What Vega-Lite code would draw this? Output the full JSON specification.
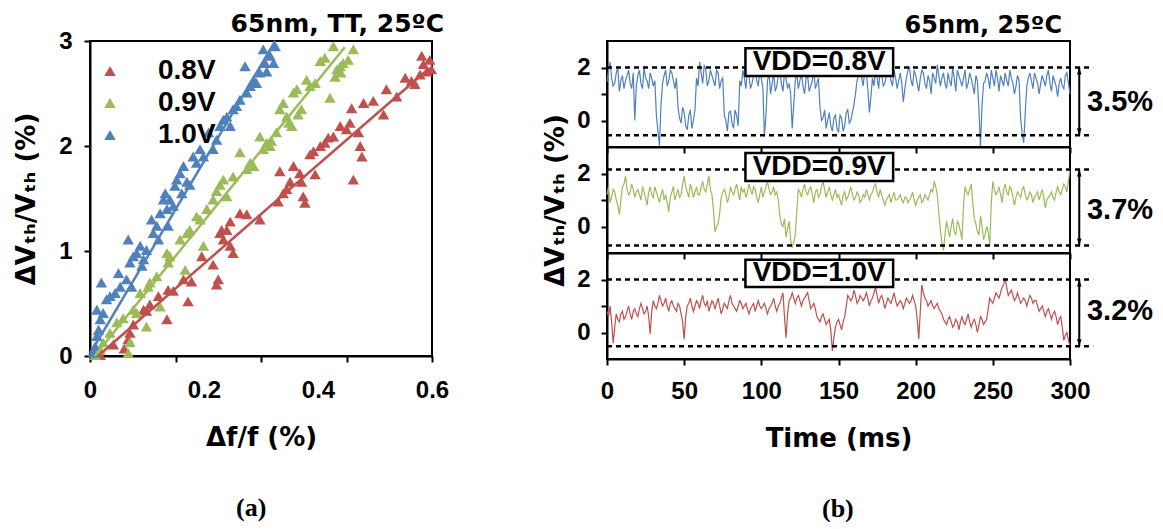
{
 "$schema": "https://vega.github.io/schema/vega-lite/v6.json",
 "background": "white",
 "padding": {"left": 12, "top": 11, "right": 0, "bottom": 0},
 "spacing": 91,
 "datasets": {
  "scatter": [
   {"x":0.018,"y":0.01,"v":"0.8V"},{"x":0.041,"y":0.11,"v":"0.8V"},{"x":0.060,"y":0.07,"v":"0.8V"},{"x":0.067,"y":0.16,"v":"0.8V"},{"x":0.070,"y":0.22,"v":"0.8V"},{"x":0.076,"y":0.30,"v":"0.8V"},{"x":0.094,"y":0.44,"v":"0.8V"},{"x":0.099,"y":0.43,"v":"0.8V"},{"x":0.105,"y":0.49,"v":"0.8V"},{"x":0.120,"y":0.57,"v":"0.8V"},{"x":0.135,"y":0.35,"v":"0.8V"},{"x":0.137,"y":0.63,"v":"0.8V"},{"x":0.146,"y":0.62,"v":"0.8V"},{"x":0.164,"y":0.73,"v":"0.8V"},{"x":0.172,"y":0.52,"v":"0.8V"},{"x":0.178,"y":0.71,"v":"0.8V"},{"x":0.196,"y":0.95,"v":"0.8V"},{"x":0.216,"y":0.87,"v":"0.8V"},{"x":0.222,"y":0.68,"v":"0.8V"},{"x":0.225,"y":0.73,"v":"0.8V"},{"x":0.228,"y":1.17,"v":"0.8V"},{"x":0.231,"y":1.20,"v":"0.8V"},{"x":0.234,"y":1.11,"v":"0.8V"},{"x":0.240,"y":1.20,"v":"0.8V"},{"x":0.246,"y":1.28,"v":"0.8V"},{"x":0.246,"y":1.05,"v":"0.8V"},{"x":0.251,"y":0.98,"v":"0.8V"},{"x":0.263,"y":1.36,"v":"0.8V"},{"x":0.275,"y":1.35,"v":"0.8V"},{"x":0.298,"y":1.30,"v":"0.8V"},{"x":0.330,"y":1.47,"v":"0.8V"},{"x":0.333,"y":1.76,"v":"0.8V"},{"x":0.339,"y":1.55,"v":"0.8V"},{"x":0.345,"y":1.59,"v":"0.8V"},{"x":0.351,"y":1.66,"v":"0.8V"},{"x":0.357,"y":1.81,"v":"0.8V"},{"x":0.368,"y":1.74,"v":"0.8V"},{"x":0.371,"y":1.66,"v":"0.8V"},{"x":0.374,"y":1.52,"v":"0.8V"},{"x":0.377,"y":1.46,"v":"0.8V"},{"x":0.386,"y":1.92,"v":"0.8V"},{"x":0.392,"y":1.95,"v":"0.8V"},{"x":0.395,"y":1.73,"v":"0.8V"},{"x":0.404,"y":2.00,"v":"0.8V"},{"x":0.412,"y":2.03,"v":"0.8V"},{"x":0.418,"y":2.08,"v":"0.8V"},{"x":0.427,"y":2.09,"v":"0.8V"},{"x":0.439,"y":2.19,"v":"0.8V"},{"x":0.450,"y":2.16,"v":"0.8V"},{"x":0.456,"y":2.22,"v":"0.8V"},{"x":0.459,"y":2.36,"v":"0.8V"},{"x":0.462,"y":1.68,"v":"0.8V"},{"x":0.471,"y":2.13,"v":"0.8V"},{"x":0.474,"y":2.00,"v":"0.8V"},{"x":0.477,"y":1.90,"v":"0.8V"},{"x":0.480,"y":2.41,"v":"0.8V"},{"x":0.497,"y":2.43,"v":"0.8V"},{"x":0.515,"y":2.30,"v":"0.8V"},{"x":0.520,"y":2.54,"v":"0.8V"},{"x":0.538,"y":2.47,"v":"0.8V"},{"x":0.553,"y":2.65,"v":"0.8V"},{"x":0.564,"y":2.62,"v":"0.8V"},{"x":0.570,"y":2.59,"v":"0.8V"},{"x":0.579,"y":2.68,"v":"0.8V"},{"x":0.582,"y":2.86,"v":"0.8V"},{"x":0.585,"y":2.78,"v":"0.8V"},{"x":0.591,"y":2.71,"v":"0.8V"},{"x":0.596,"y":2.82,"v":"0.8V"},{"x":0.599,"y":2.73,"v":"0.8V"},
   {"x":0.009,"y":0.01,"v":"0.9V"},{"x":0.018,"y":0.06,"v":"0.9V"},{"x":0.023,"y":0.13,"v":"0.9V"},{"x":0.035,"y":0.22,"v":"0.9V"},{"x":0.047,"y":0.32,"v":"0.9V"},{"x":0.058,"y":0.36,"v":"0.9V"},{"x":0.067,"y":0.03,"v":"0.9V"},{"x":0.070,"y":0.13,"v":"0.9V"},{"x":0.076,"y":0.44,"v":"0.9V"},{"x":0.082,"y":0.41,"v":"0.9V"},{"x":0.088,"y":0.60,"v":"0.9V"},{"x":0.099,"y":0.28,"v":"0.9V"},{"x":0.102,"y":0.66,"v":"0.9V"},{"x":0.105,"y":0.70,"v":"0.9V"},{"x":0.117,"y":0.76,"v":"0.9V"},{"x":0.123,"y":0.47,"v":"0.9V"},{"x":0.135,"y":0.98,"v":"0.9V"},{"x":0.137,"y":0.89,"v":"0.9V"},{"x":0.140,"y":0.95,"v":"0.9V"},{"x":0.158,"y":1.11,"v":"0.9V"},{"x":0.167,"y":0.82,"v":"0.9V"},{"x":0.170,"y":1.17,"v":"0.9V"},{"x":0.175,"y":1.20,"v":"0.9V"},{"x":0.187,"y":1.33,"v":"0.9V"},{"x":0.193,"y":1.30,"v":"0.9V"},{"x":0.199,"y":1.05,"v":"0.9V"},{"x":0.205,"y":1.40,"v":"0.9V"},{"x":0.216,"y":1.49,"v":"0.9V"},{"x":0.222,"y":1.57,"v":"0.9V"},{"x":0.228,"y":1.63,"v":"0.9V"},{"x":0.234,"y":1.68,"v":"0.9V"},{"x":0.240,"y":1.52,"v":"0.9V"},{"x":0.251,"y":1.71,"v":"0.9V"},{"x":0.263,"y":1.94,"v":"0.9V"},{"x":0.275,"y":1.78,"v":"0.9V"},{"x":0.281,"y":1.84,"v":"0.9V"},{"x":0.287,"y":1.81,"v":"0.9V"},{"x":0.298,"y":2.09,"v":"0.9V"},{"x":0.304,"y":1.97,"v":"0.9V"},{"x":0.310,"y":2.03,"v":"0.9V"},{"x":0.316,"y":2.00,"v":"0.9V"},{"x":0.318,"y":2.05,"v":"0.9V"},{"x":0.327,"y":2.13,"v":"0.9V"},{"x":0.333,"y":2.35,"v":"0.9V"},{"x":0.339,"y":2.41,"v":"0.9V"},{"x":0.345,"y":2.28,"v":"0.9V"},{"x":0.349,"y":2.22,"v":"0.9V"},{"x":0.354,"y":2.19,"v":"0.9V"},{"x":0.357,"y":2.51,"v":"0.9V"},{"x":0.363,"y":2.54,"v":"0.9V"},{"x":0.365,"y":2.30,"v":"0.9V"},{"x":0.371,"y":2.35,"v":"0.9V"},{"x":0.380,"y":2.63,"v":"0.9V"},{"x":0.386,"y":2.57,"v":"0.9V"},{"x":0.395,"y":2.60,"v":"0.9V"},{"x":0.404,"y":2.81,"v":"0.9V"},{"x":0.412,"y":2.84,"v":"0.9V"},{"x":0.421,"y":2.46,"v":"0.9V"},{"x":0.427,"y":2.95,"v":"0.9V"},{"x":0.430,"y":2.66,"v":"0.9V"},{"x":0.433,"y":2.73,"v":"0.9V"},{"x":0.439,"y":2.76,"v":"0.9V"},{"x":0.440,"y":2.70,"v":"0.9V"},{"x":0.444,"y":2.79,"v":"0.9V"},{"x":0.453,"y":2.82,"v":"0.9V"},{"x":0.462,"y":2.92,"v":"0.9V"},
   {"x":0.006,"y":0.03,"v":"1.0V"},{"x":0.009,"y":0.09,"v":"1.0V"},{"x":0.012,"y":0.19,"v":"1.0V"},{"x":0.015,"y":0.25,"v":"1.0V"},{"x":0.012,"y":0.44,"v":"1.0V"},{"x":0.018,"y":0.35,"v":"1.0V"},{"x":0.023,"y":0.41,"v":"1.0V"},{"x":0.020,"y":0.70,"v":"1.0V"},{"x":0.029,"y":0.54,"v":"1.0V"},{"x":0.035,"y":0.57,"v":"1.0V"},{"x":0.044,"y":0.60,"v":"1.0V"},{"x":0.050,"y":0.79,"v":"1.0V"},{"x":0.053,"y":0.66,"v":"1.0V"},{"x":0.064,"y":0.73,"v":"1.0V"},{"x":0.067,"y":1.11,"v":"1.0V"},{"x":0.070,"y":0.89,"v":"1.0V"},{"x":0.073,"y":0.66,"v":"1.0V"},{"x":0.076,"y":0.95,"v":"1.0V"},{"x":0.082,"y":0.98,"v":"1.0V"},{"x":0.088,"y":1.05,"v":"1.0V"},{"x":0.091,"y":0.86,"v":"1.0V"},{"x":0.094,"y":0.92,"v":"1.0V"},{"x":0.099,"y":1.01,"v":"1.0V"},{"x":0.108,"y":1.30,"v":"1.0V"},{"x":0.111,"y":1.17,"v":"1.0V"},{"x":0.117,"y":1.24,"v":"1.0V"},{"x":0.120,"y":1.11,"v":"1.0V"},{"x":0.123,"y":1.36,"v":"1.0V"},{"x":0.129,"y":1.49,"v":"1.0V"},{"x":0.132,"y":1.55,"v":"1.0V"},{"x":0.135,"y":1.40,"v":"1.0V"},{"x":0.137,"y":1.24,"v":"1.0V"},{"x":0.140,"y":1.49,"v":"1.0V"},{"x":0.146,"y":1.43,"v":"1.0V"},{"x":0.149,"y":1.62,"v":"1.0V"},{"x":0.152,"y":1.68,"v":"1.0V"},{"x":0.158,"y":1.74,"v":"1.0V"},{"x":0.161,"y":1.55,"v":"1.0V"},{"x":0.164,"y":1.81,"v":"1.0V"},{"x":0.170,"y":1.66,"v":"1.0V"},{"x":0.175,"y":1.63,"v":"1.0V"},{"x":0.181,"y":1.90,"v":"1.0V"},{"x":0.187,"y":1.84,"v":"1.0V"},{"x":0.193,"y":1.97,"v":"1.0V"},{"x":0.199,"y":1.90,"v":"1.0V"},{"x":0.208,"y":2.13,"v":"1.0V"},{"x":0.216,"y":1.97,"v":"1.0V"},{"x":0.222,"y":2.06,"v":"1.0V"},{"x":0.228,"y":2.19,"v":"1.0V"},{"x":0.234,"y":2.25,"v":"1.0V"},{"x":0.240,"y":2.28,"v":"1.0V"},{"x":0.246,"y":2.19,"v":"1.0V"},{"x":0.251,"y":2.35,"v":"1.0V"},{"x":0.257,"y":2.38,"v":"1.0V"},{"x":0.263,"y":2.44,"v":"1.0V"},{"x":0.272,"y":2.76,"v":"1.0V"},{"x":0.275,"y":2.51,"v":"1.0V"},{"x":0.281,"y":2.57,"v":"1.0V"},{"x":0.287,"y":2.63,"v":"1.0V"},{"x":0.292,"y":2.60,"v":"1.0V"},{"x":0.298,"y":2.70,"v":"1.0V"},{"x":0.304,"y":2.92,"v":"1.0V"},{"x":0.307,"y":2.79,"v":"1.0V"},{"x":0.310,"y":2.71,"v":"1.0V"},{"x":0.316,"y":2.86,"v":"1.0V"},{"x":0.322,"y":2.79,"v":"1.0V"},{"x":0.325,"y":2.95,"v":"1.0V"}
  ],
  "fit": [
   {"x":0.014,"y":0.0,"v":"0.8V"},{"x":0.289,"y":1.30,"v":"0.8V"},{"x":0.595,"y":2.74,"v":"0.8V"},
   {"x":0.008,"y":0.0,"v":"0.9V"},{"x":0.447,"y":2.94,"v":"0.9V"},
   {"x":0.0,"y":0.02,"v":"1.0V"},{"x":0.325,"y":3.0,"v":"1.0V"}
  ],
  "ts": [
   {"t":0,"a":1.45,"b":1.2,"c":0.8},{"t":2,"a":2.2,"b":0.9,"c":1.0},{"t":4,"a":1.3,"b":1.4,"c":-0.4},{"t":6,"a":1.8,"b":1.0,"c":0.7},{"t":8,"a":1.1,"b":0.45,"c":0.4},{"t":10,"a":1.7,"b":1.5,"c":0.8},{"t":12,"a":1.5,"b":1.9,"c":0.6},{"t":14,"a":1.9,"b":1.2,"c":1.0},{"t":16,"a":1.2,"b":1.6,"c":0.5},{"t":18,"a":0.0,"b":1.1,"c":0.9},
   {"t":20,"a":1.7,"b":1.4,"c":0.6},{"t":22,"a":1.4,"b":1.0,"c":1.1},{"t":24,"a":2.0,"b":1.3,"c":0.7},{"t":26,"a":1.5,"b":0.8,"c":1.0},{"t":28,"a":1.8,"b":1.5,"c":-0.05},{"t":30,"a":1.3,"b":1.1,"c":1.2},{"t":32,"a":0.2,"b":1.3,"c":0.9},{"t":34,"a":-0.95,"b":0.9,"c":1.4},{"t":36,"a":1.4,"b":1.4,"c":1.0},{"t":38,"a":1.9,"b":1.2,"c":1.3},
   {"t":40,"a":1.5,"b":0.55,"c":0.8},{"t":42,"a":1.8,"b":1.3,"c":1.2},{"t":44,"a":1.2,"b":1.0,"c":0.9},{"t":46,"a":0.5,"b":1.4,"c":1.1},{"t":48,"a":-0.1,"b":1.2,"c":0.7},{"t":50,"a":0.3,"b":1.9,"c":-0.25},{"t":52,"a":-0.35,"b":1.3,"c":1.0},{"t":54,"a":0.4,"b":1.6,"c":1.3},{"t":56,"a":0.0,"b":1.1,"c":0.8},{"t":58,"a":1.6,"b":1.5,"c":1.2},
   {"t":60,"a":2.2,"b":1.2,"c":0.9},{"t":62,"a":1.4,"b":1.7,"c":1.4},{"t":64,"a":1.9,"b":1.3,"c":1.0},{"t":66,"a":1.5,"b":1.9,"c":0.8},{"t":68,"a":1.7,"b":1.2,"c":1.2},{"t":70,"a":1.3,"b":-0.2,"c":0.9},{"t":72,"a":1.8,"b":0.1,"c":1.3},{"t":74,"a":1.5,"b":1.1,"c":0.7},{"t":76,"a":0.2,"b":1.4,"c":1.1},{"t":78,"a":-0.4,"b":0.9,"c":0.9},
   {"t":80,"a":0.35,"b":1.5,"c":1.4},{"t":82,"a":-0.3,"b":1.2,"c":1.0},{"t":84,"a":0.2,"b":1.6,"c":0.8},{"t":86,"a":1.5,"b":1.0,"c":1.2},{"t":88,"a":1.9,"b":1.3,"c":0.9},{"t":90,"a":1.2,"b":1.1,"c":1.1},{"t":92,"a":1.7,"b":1.6,"c":0.7},{"t":94,"a":1.4,"b":1.2,"c":1.0},{"t":96,"a":2.0,"b":1.4,"c":0.8},{"t":98,"a":1.3,"b":0.9,"c":1.2},
   {"t":100,"a":1.6,"b":1.5,"c":0.9},{"t":102,"a":-0.6,"b":1.3,"c":1.1},{"t":104,"a":1.5,"b":1.7,"c":0.7},{"t":106,"a":1.0,"b":1.2,"c":1.0},{"t":108,"a":1.8,"b":1.5,"c":1.3},{"t":110,"a":1.3,"b":1.3,"c":0.8},{"t":112,"a":1.9,"b":0.4,"c":1.1},{"t":114,"a":1.1,"b":0.0,"c":1.5},{"t":116,"a":1.6,"b":-0.4,"c":-0.2},{"t":118,"a":1.4,"b":0.2,"c":1.2},
   {"t":120,"a":-0.3,"b":-0.8,"c":1.5},{"t":122,"a":1.5,"b":-0.3,"c":1.1},{"t":124,"a":1.2,"b":1.4,"c":1.4},{"t":126,"a":1.8,"b":1.1,"c":1.0},{"t":128,"a":1.0,"b":1.6,"c":1.3},{"t":130,"a":1.7,"b":1.2,"c":1.5},{"t":132,"a":1.3,"b":1.5,"c":0.9},{"t":134,"a":1.9,"b":0.9,"c":1.1},{"t":136,"a":1.4,"b":1.4,"c":0.6},{"t":138,"a":0.5,"b":1.2,"c":0.4},
   {"t":140,"a":0.1,"b":1.7,"c":0.7},{"t":142,"a":-0.3,"b":1.1,"c":0.3},{"t":144,"a":0.3,"b":1.5,"c":0.5},{"t":146,"a":-0.4,"b":1.0,"c":-0.7},{"t":148,"a":0.2,"b":1.4,"c":0.2},{"t":150,"a":-0.45,"b":1.2,"c":0.5},{"t":152,"a":0.1,"b":0.8,"c":0.1},{"t":154,"a":-0.2,"b":1.3,"c":0.6},{"t":156,"a":0.4,"b":1.1,"c":1.4},{"t":158,"a":0.0,"b":1.5,"c":1.2},
   {"t":160,"a":0.6,"b":1.0,"c":1.6},{"t":162,"a":1.5,"b":1.3,"c":1.1},{"t":164,"a":2.0,"b":0.9,"c":1.4},{"t":166,"a":1.3,"b":1.2,"c":1.2},{"t":168,"a":1.8,"b":1.4,"c":1.5},{"t":170,"a":0.3,"b":1.0,"c":1.0},{"t":172,"a":1.6,"b":1.3,"c":1.3},{"t":174,"a":2.1,"b":1.6,"c":1.7},{"t":176,"a":1.2,"b":1.1,"c":1.1},{"t":178,"a":1.7,"b":1.2,"c":1.4},
   {"t":180,"a":1.4,"b":0.8,"c":0.9},{"t":182,"a":2.2,"b":1.1,"c":1.3},{"t":184,"a":1.5,"b":0.9,"c":1.1},{"t":186,"a":1.9,"b":1.3,"c":1.5},{"t":188,"a":1.2,"b":1.0,"c":1.0},{"t":190,"a":1.8,"b":1.2,"c":1.2},{"t":192,"a":0.7,"b":0.9,"c":0.9},{"t":194,"a":1.6,"b":1.1,"c":1.3},{"t":196,"a":2.0,"b":1.0,"c":1.1},{"t":198,"a":1.3,"b":1.3,"c":1.4},
   {"t":200,"a":1.7,"b":0.8,"c":1.0},{"t":202,"a":1.1,"b":1.1,"c":-0.25},{"t":204,"a":1.9,"b":0.9,"c":1.8},{"t":206,"a":1.4,"b":1.2,"c":1.3},{"t":208,"a":1.7,"b":1.0,"c":1.0},{"t":210,"a":1.0,"b":1.4,"c":1.2},{"t":212,"a":1.6,"b":1.7,"c":0.9},{"t":214,"a":2.1,"b":1.2,"c":1.1},{"t":216,"a":1.3,"b":-0.1,"c":0.8},{"t":218,"a":1.8,"b":-0.9,"c":0.5},
   {"t":220,"a":1.2,"b":0.2,"c":0.3},{"t":222,"a":1.5,"b":-0.4,"c":0.6},{"t":224,"a":2.0,"b":0.3,"c":0.2},{"t":226,"a":1.1,"b":-0.3,"c":0.5},{"t":228,"a":1.7,"b":0.1,"c":0.1},{"t":230,"a":1.3,"b":-0.5,"c":0.6},{"t":232,"a":1.9,"b":1.5,"c":0.3},{"t":234,"a":1.4,"b":1.2,"c":0.7},{"t":236,"a":1.6,"b":1.6,"c":0.2},{"t":238,"a":1.0,"b":0.3,"c":0.5},
   {"t":240,"a":1.5,"b":-0.2,"c":0.0},{"t":242,"a":-1.0,"b":0.4,"c":0.6},{"t":244,"a":1.4,"b":-0.5,"c":0.3},{"t":246,"a":1.8,"b":0.0,"c":0.5},{"t":248,"a":1.2,"b":-0.7,"c":1.3},{"t":250,"a":1.6,"b":1.7,"c":1.1},{"t":252,"a":1.9,"b":1.2,"c":1.5},{"t":254,"a":1.1,"b":1.5,"c":1.3},{"t":256,"a":1.5,"b":0.9,"c":1.7},{"t":258,"a":1.8,"b":1.6,"c":2.05},
   {"t":260,"a":1.3,"b":1.2,"c":1.4},{"t":262,"a":1.6,"b":1.4,"c":1.6},{"t":264,"a":1.0,"b":0.8,"c":1.2},{"t":266,"a":1.7,"b":1.3,"c":1.5},{"t":268,"a":0.1,"b":1.1,"c":1.1},{"t":270,"a":-0.85,"b":1.5,"c":1.3},{"t":272,"a":1.3,"b":1.0,"c":1.0},{"t":274,"a":1.8,"b":1.3,"c":1.4},{"t":276,"a":1.2,"b":0.9,"c":1.1},{"t":278,"a":1.6,"b":1.2,"c":1.2},
   {"t":280,"a":1.0,"b":1.0,"c":0.8},{"t":282,"a":1.7,"b":1.4,"c":1.0},{"t":284,"a":1.3,"b":0.7,"c":0.6},{"t":286,"a":1.9,"b":1.1,"c":0.9},{"t":288,"a":1.1,"b":1.3,"c":0.5},{"t":290,"a":1.5,"b":1.0,"c":0.8},{"t":292,"a":0.9,"b":1.5,"c":0.3},{"t":294,"a":1.6,"b":1.2,"c":0.6},{"t":296,"a":1.2,"b":1.6,"c":-0.3},{"t":298,"a":1.8,"b":1.3,"c":0.0},
   {"t":300,"a":1.0,"b":2.2,"c":-0.5},
   {"t":1,"a":1.9,"b":1.5,"c":0.6},{"t":3,"a":1.6,"b":1.1,"c":0.4},{"t":5,"a":1.4,"b":1.3,"c":0.2},{"t":7,"a":2.0,"b":0.8,"c":0.5},{"t":9,"a":1.5,"b":1.0,"c":0.7},{"t":11,"a":1.2,"b":1.6,"c":0.5},{"t":13,"a":1.7,"b":1.4,"c":0.8},{"t":15,"a":1.4,"b":1.3,"c":0.7},{"t":17,"a":1.8,"b":1.4,"c":0.8},{"t":19,"a":1.3,"b":1.3,"c":0.7},
   {"t":21,"a":1.9,"b":1.2,"c":0.9},{"t":23,"a":1.2,"b":1.5,"c":0.9},{"t":25,"a":1.6,"b":1.1,"c":0.8},{"t":27,"a":1.2,"b":1.3,"c":0.6},{"t":29,"a":1.6,"b":1.2,"c":0.8},{"t":31,"a":1.5,"b":1.5,"c":1.0},{"t":33,"a":-0.4,"b":1.1,"c":1.1},{"t":35,"a":0.6,"b":1.2,"c":1.2},{"t":37,"a":1.7,"b":1.0,"c":1.1},{"t":39,"a":1.3,"b":0.9,"c":1.0},
   {"t":41,"a":1.9,"b":1.1,"c":1.1},{"t":43,"a":1.5,"b":1.5,"c":1.0},{"t":45,"a":1.6,"b":1.2,"c":0.8},{"t":47,"a":0.1,"b":1.1,"c":1.0},{"t":49,"a":0.5,"b":1.6,"c":0.4},{"t":51,"a":-0.2,"b":1.5,"c":0.6},{"t":53,"a":0.2,"b":1.1,"c":1.1},{"t":55,"a":-0.3,"b":1.4,"c":1.0},{"t":57,"a":0.4,"b":1.3,"c":1.0},{"t":59,"a":1.3,"b":1.2,"c":1.1},
   {"t":61,"a":1.8,"b":1.5,"c":1.2},{"t":63,"a":2.1,"b":1.4,"c":1.1},{"t":65,"a":1.3,"b":1.6,"c":1.2},{"t":67,"a":1.9,"b":1.4,"c":1.0},{"t":69,"a":1.5,"b":0.6,"c":1.1},{"t":71,"a":1.9,"b":0.0,"c":1.1},{"t":73,"a":1.2,"b":0.5,"c":1.0},{"t":75,"a":1.6,"b":1.3,"c":0.9},{"t":77,"a":0.0,"b":1.2,"c":1.0},{"t":79,"a":0.3,"b":1.1,"c":1.2},
   {"t":81,"a":-0.1,"b":1.3,"c":1.1},{"t":83,"a":0.4,"b":1.4,"c":0.9},{"t":85,"a":-0.2,"b":1.3,"c":1.0},{"t":87,"a":1.3,"b":1.5,"c":1.1},{"t":89,"a":1.6,"b":1.4,"c":1.0},{"t":91,"a":1.9,"b":1.3,"c":0.9},{"t":93,"a":1.2,"b":1.4,"c":0.9},{"t":95,"a":1.7,"b":1.5,"c":1.1},{"t":97,"a":1.5,"b":1.1,"c":1.0},{"t":99,"a":1.9,"b":1.2,"c":1.0},
   {"t":101,"a":1.2,"b":1.1,"c":1.0},{"t":103,"a":0.2,"b":1.5,"c":0.9},{"t":105,"a":1.8,"b":1.4,"c":0.9},{"t":107,"a":1.4,"b":1.3,"c":1.1},{"t":109,"a":1.1,"b":1.2,"c":1.0},{"t":111,"a":1.7,"b":1.0,"c":1.0},{"t":113,"a":1.4,"b":0.1,"c":1.3},{"t":115,"a":1.8,"b":0.3,"c":0.6},{"t":117,"a":1.2,"b":-0.1,"c":0.7},{"t":119,"a":1.0,"b":-0.5,"c":1.3},
   {"t":121,"a":0.6,"b":-0.6,"c":1.3},{"t":123,"a":1.8,"b":0.6,"c":1.3},{"t":125,"a":1.5,"b":1.3,"c":1.2},{"t":127,"a":1.3,"b":1.4,"c":1.2},{"t":129,"a":1.6,"b":1.3,"c":1.4},{"t":131,"a":1.1,"b":1.4,"c":1.2},{"t":133,"a":1.5,"b":1.2,"c":1.0},{"t":135,"a":1.2,"b":1.3,"c":0.9},{"t":137,"a":1.6,"b":1.1,"c":0.5},{"t":139,"a":0.0,"b":1.5,"c":0.6},
   {"t":141,"a":0.4,"b":1.4,"c":0.5},{"t":143,"a":0.0,"b":1.3,"c":0.4},{"t":145,"a":-0.2,"b":1.2,"c":0.1},{"t":147,"a":0.1,"b":1.2,"c":-0.2},{"t":149,"a":-0.3,"b":1.1,"c":0.4},{"t":151,"a":0.2,"b":1.0,"c":0.3},{"t":153,"a":-0.4,"b":1.2,"c":0.4},{"t":155,"a":0.3,"b":1.0,"c":1.0},{"t":157,"a":-0.1,"b":1.3,"c":1.3},{"t":159,"a":0.3,"b":1.2,"c":1.3},
   {"t":161,"a":1.0,"b":1.1,"c":1.4},{"t":163,"a":1.7,"b":1.2,"c":1.2},{"t":165,"a":1.6,"b":1.0,"c":1.3},{"t":167,"a":1.9,"b":1.1,"c":1.3},{"t":169,"a":1.2,"b":1.2,"c":1.3},{"t":171,"a":0.9,"b":1.2,"c":1.2},{"t":173,"a":1.3,"b":1.5,"c":1.5},{"t":175,"a":1.6,"b":1.3,"c":1.4},{"t":177,"a":1.9,"b":1.4,"c":1.3},{"t":179,"a":1.3,"b":1.0,"c":1.2},
   {"t":181,"a":1.7,"b":1.0,"c":1.1},{"t":183,"a":1.8,"b":1.2,"c":1.2},{"t":185,"a":1.3,"b":1.1,"c":1.3},{"t":187,"a":1.6,"b":1.0,"c":1.2},{"t":189,"a":1.5,"b":1.1,"c":1.1},{"t":191,"a":1.4,"b":1.0,"c":1.1},{"t":193,"a":1.2,"b":1.1,"c":1.1},{"t":195,"a":1.9,"b":0.9,"c":1.2},{"t":197,"a":1.5,"b":1.1,"c":1.2},{"t":199,"a":1.9,"b":1.0,"c":1.2},
   {"t":201,"a":1.4,"b":1.0,"c":0.5},{"t":203,"a":1.6,"b":1.2,"c":0.8},{"t":205,"a":1.8,"b":1.0,"c":1.5},{"t":207,"a":1.2,"b":1.1,"c":1.2},{"t":209,"a":1.5,"b":1.2,"c":1.1},{"t":211,"a":1.8,"b":1.3,"c":1.0},{"t":213,"a":1.4,"b":1.5,"c":1.0},{"t":215,"a":1.7,"b":0.5,"c":0.9},{"t":217,"a":1.6,"b":-0.6,"c":0.7},{"t":219,"a":1.4,"b":-0.3,"c":0.4},
   {"t":221,"a":1.8,"b":-0.1,"c":0.5},{"t":223,"a":1.3,"b":0.0,"c":0.4},{"t":225,"a":1.6,"b":-0.2,"c":0.3},{"t":227,"a":1.9,"b":0.2,"c":0.4},{"t":229,"a":1.5,"b":-0.2,"c":0.4},{"t":231,"a":1.6,"b":0.8,"c":0.4},{"t":233,"a":1.2,"b":1.3,"c":0.5},{"t":235,"a":1.8,"b":1.4,"c":0.4},{"t":237,"a":1.3,"b":0.9,"c":0.4},{"t":239,"a":1.7,"b":0.1,"c":0.3},
   {"t":241,"a":0.4,"b":-0.3,"c":0.3},{"t":243,"a":0.6,"b":0.0,"c":0.5},{"t":245,"a":1.5,"b":-0.3,"c":0.4},{"t":247,"a":1.6,"b":-0.2,"c":0.9},{"t":249,"a":1.9,"b":0.9,"c":1.2},{"t":251,"a":1.3,"b":1.4,"c":1.3},{"t":253,"a":1.6,"b":1.3,"c":1.4},{"t":255,"a":1.7,"b":1.2,"c":1.5},{"t":257,"a":1.3,"b":1.4,"c":1.8},{"t":259,"a":1.5,"b":1.3,"c":1.7},
   {"t":261,"a":1.9,"b":1.5,"c":1.5},{"t":263,"a":1.4,"b":1.1,"c":1.4},{"t":265,"a":1.3,"b":1.1,"c":1.3},{"t":267,"a":1.5,"b":1.2,"c":1.3},{"t":269,"a":-0.5,"b":1.4,"c":1.2},{"t":271,"a":0.3,"b":1.2,"c":1.2},{"t":273,"a":1.6,"b":1.1,"c":1.2},{"t":275,"a":1.5,"b":1.2,"c":1.3},{"t":277,"a":1.8,"b":1.1,"c":1.2},{"t":279,"a":1.4,"b":1.3,"c":1.0},
   {"t":281,"a":1.4,"b":1.2,"c":0.9},{"t":283,"a":1.5,"b":1.1,"c":0.8},{"t":285,"a":1.7,"b":1.0,"c":0.8},{"t":287,"a":1.4,"b":1.2,"c":0.7},{"t":289,"a":1.7,"b":1.1,"c":0.7},{"t":291,"a":1.3,"b":1.3,"c":0.6},{"t":293,"a":1.4,"b":1.3,"c":0.5},{"t":295,"a":1.3,"b":1.4,"c":0.2},{"t":297,"a":1.7,"b":1.5,"c":-0.1},{"t":299,"a":1.4,"b":1.7,"c":-0.3}
  ]
 },
 "hconcat": [
  {
   "title": {"text": "(a)", "orient": "bottom", "anchor": "middle", "font": "Liberation Serif", "fontSize": 26, "fontWeight": "bold", "color": "black", "offset": 44, "dx": 20},
   "vconcat": [
    {
     "width": 342,
     "height": 315,
     "title": {"text": "65nm, TT, 25ºC", "anchor": "end", "frame": "group", "font": "DejaVu Sans", "fontSize": 25, "fontWeight": "bold", "color": "black", "offset": -8, "dx": 12},
     "layer": [
      {
       "data": {"name": "scatter"},
       "mark": {"type": "point", "shape": "triangle-up", "filled": true, "size": 130, "opacity": 1},
       "encoding": {
        "x": {"field": "x", "type": "quantitative", "scale": {"domain": [0, 0.6], "nice": false},
              "axis": {"values": [0, 0.15, 0.2, 0.3, 0.4, 0.45, 0.6], "labelExpr": "datum.value == 0 ? '0' : datum.value == 0.2 ? '0.2' : datum.value == 0.4 ? '0.4' : datum.value == 0.6 ? '0.6' : ''",
                       "tickOpacity": {"condition": {"test": "datum.value == 0.2 || datum.value == 0.4", "value": 0}, "value": 1},
                       "labelFlush": false, "labelOverlap": false, "labelPadding": 16, "title": "Δf/f (%)", "titlePadding": 22}},
        "y": {"field": "y", "type": "quantitative", "scale": {"domain": [0, 3], "nice": false},
              "axis": {"values": [0, 1, 2, 3], "format": "d", "labelPadding": 12, "title": "ΔVₜₕ/Vₜₕ (%)", "titlePadding": 19}},
        "fill": {"field": "v", "type": "nominal",
                 "scale": {"domain": ["0.8V", "0.9V", "1.0V"], "range": ["#C0504D", "#9BBB59", "#4F81BD"]},
                 "legend": {"orient": "none", "legendX": 6, "legendY": 16, "title": null, "symbolType": "triangle-up", "symbolSize": 130, "symbolStrokeWidth": 0,
                            "labelFont": "Liberation Sans", "labelFontSize": 28, "labelFontWeight": "bold", "labelColor": "black", "labelOffset": 34, "rowPadding": 4, "padding": 0}}
       }
      },
      {
       "data": {"name": "fit"},
       "mark": {"type": "line", "strokeWidth": 2.5},
       "encoding": {
        "x": {"field": "x", "type": "quantitative"},
        "y": {"field": "y", "type": "quantitative"},
        "stroke": {"field": "v", "type": "nominal", "scale": {"domain": ["0.8V", "0.9V", "1.0V"], "range": ["#C0504D", "#9BBB59", "#4F81BD"]}, "legend": null}
       }
      }
     ]
    }
   ]
  },
  {
   "title": {"text": "(b)", "orient": "bottom", "anchor": "middle", "font": "Liberation Serif", "fontSize": 26, "fontWeight": "bold", "color": "black", "offset": 44, "dx": -10},
   "spacing": 0,
   "bounds": "flush",
   "vconcat": [
    {
     "width": 463, "height": 106,
     "title": {"text": "65nm, 25ºC", "anchor": "end", "frame": "group", "font": "DejaVu Sans", "fontSize": 24, "fontWeight": "bold", "color": "black", "offset": 3, "dx": -8},
     "layer": [
      {"data": {"name": "ts"}, "mark": {"type": "line", "color": "#4F81BD", "strokeWidth": 1.2},
       "encoding": {
        "x": {"field": "t", "type": "quantitative", "scale": {"domain": [0, 300], "nice": false}, "axis": {"values": [0, 50, 100, 150, 200, 250, 300], "labels": false, "title": null}},
        "y": {"field": "a", "type": "quantitative", "scale": {"domain": [-1, 3], "nice": false}, "axis": {"values": [0, 1, 2], "format": "d", "labelExpr": "datum.value == 1 ? '' : datum.label", "labelPadding": 11, "title": null}}
       }},
      {"data": {"values": [{"v": 2.0}, {"v": -0.56}]}, "mark": {"type": "rule", "strokeDash": [5, 4], "strokeWidth": 2.5, "color": "black"},
       "encoding": {"y": {"field": "v", "type": "quantitative"}, "x": {"datum": 0}, "x2": {"datum": 315}}},
      {"data": {"values": [{"lab": "VDD=0.8V"}]}, "mark": {"type": "rect", "fill": "white", "stroke": "black", "strokeWidth": 2.5},
       "encoding": {"x": {"datum": 89.7}, "x2": {"datum": 185.4}, "y": {"datum": 1.68}, "y2": {"datum": 2.73}}},
      {"data": {"values": [{"lab": "VDD=0.8V"}]}, "mark": {"type": "text", "font": "Liberation Sans", "fontWeight": "bold", "fontSize": 28, "color": "black", "baseline": "middle"},
       "encoding": {"x": {"datum": 137.5}, "y": {"datum": 2.2}, "text": {"field": "lab"}}},
      {"data": {"values": [{"lo": -0.56, "hi": 2.0, "mid": 0.70, "pct": "3.5%"}]}, "mark": {"type": "rule", "strokeWidth": 2, "color": "black"},
       "encoding": {"x": {"datum": 306}, "y": {"field": "lo", "type": "quantitative"}, "y2": {"field": "hi"}}},
      {"data": {"values": [{"lo": -0.56, "hi": 2.0, "mid": 0.70, "pct": "3.5%"}]}, "mark": {"type": "point", "shape": "M0,0L-0.45,1.4L0.45,1.4Z", "filled": true, "color": "black", "size": 100, "opacity": 1},
       "encoding": {"x": {"datum": 306}, "y": {"field": "hi", "type": "quantitative"}}},
      {"data": {"values": [{"lo": -0.56, "hi": 2.0, "mid": 0.70, "pct": "3.5%"}]}, "mark": {"type": "point", "shape": "M0,0L-0.45,-1.4L0.45,-1.4Z", "filled": true, "color": "black", "size": 100, "opacity": 1},
       "encoding": {"x": {"datum": 306}, "y": {"field": "lo", "type": "quantitative"}}},
      {"data": {"values": [{"lo": -0.56, "hi": 2.0, "mid": 0.70, "pct": "3.5%"}]}, "mark": {"type": "text", "font": "Liberation Sans", "fontWeight": "bold", "fontSize": 29, "color": "black", "align": "left", "baseline": "middle"},
       "encoding": {"x": {"datum": 311}, "y": {"field": "mid", "type": "quantitative"}, "text": {"field": "pct"}}}
     ]
    },
    {
     "width": 463, "height": 106,
     "layer": [
      {"data": {"name": "ts"}, "mark": {"type": "line", "color": "#9BBB59", "strokeWidth": 1.2},
       "encoding": {
        "x": {"field": "t", "type": "quantitative", "scale": {"domain": [0, 300], "nice": false}, "axis": {"values": [0, 50, 100, 150, 200, 250, 300], "labels": false, "title": null}},
        "y": {"field": "b", "type": "quantitative", "scale": {"domain": [-1, 3], "nice": false}, "axis": {"values": [0, 1, 2], "format": "d", "labelExpr": "datum.value == 1 ? '' : datum.label", "labelPadding": 11, "title": "ΔVₜₕ/Vₜₕ (%)", "titlePadding": 8}}
       }},
      {"data": {"values": [{"v": 2.15}, {"v": -0.72}]}, "mark": {"type": "rule", "strokeDash": [5, 4], "strokeWidth": 2.5, "color": "black"},
       "encoding": {"y": {"field": "v", "type": "quantitative"}, "x": {"datum": 0}, "x2": {"datum": 315}}},
      {"data": {"values": [{"lab": "VDD=0.9V"}]}, "mark": {"type": "rect", "fill": "white", "stroke": "black", "strokeWidth": 2.5},
       "encoding": {"x": {"datum": 89.7}, "x2": {"datum": 185.4}, "y": {"datum": 1.72}, "y2": {"datum": 2.77}}},
      {"data": {"values": [{"lab": "VDD=0.9V"}]}, "mark": {"type": "text", "font": "Liberation Sans", "fontWeight": "bold", "fontSize": 28, "color": "black", "baseline": "middle"},
       "encoding": {"x": {"datum": 137.5}, "y": {"datum": 2.24}, "text": {"field": "lab"}}},
      {"data": {"values": [{"lo": -0.72, "hi": 2.15, "mid": 0.62, "pct": "3.7%"}]}, "mark": {"type": "rule", "strokeWidth": 2, "color": "black"},
       "encoding": {"x": {"datum": 306}, "y": {"field": "lo", "type": "quantitative"}, "y2": {"field": "hi"}}},
      {"data": {"values": [{"lo": -0.72, "hi": 2.15, "mid": 0.62, "pct": "3.7%"}]}, "mark": {"type": "point", "shape": "M0,0L-0.45,1.4L0.45,1.4Z", "filled": true, "color": "black", "size": 100, "opacity": 1},
       "encoding": {"x": {"datum": 306}, "y": {"field": "hi", "type": "quantitative"}}},
      {"data": {"values": [{"lo": -0.72, "hi": 2.15, "mid": 0.62, "pct": "3.7%"}]}, "mark": {"type": "point", "shape": "M0,0L-0.45,-1.4L0.45,-1.4Z", "filled": true, "color": "black", "size": 100, "opacity": 1},
       "encoding": {"x": {"datum": 306}, "y": {"field": "lo", "type": "quantitative"}}},
      {"data": {"values": [{"lo": -0.72, "hi": 2.15, "mid": 0.62, "pct": "3.7%"}]}, "mark": {"type": "text", "font": "Liberation Sans", "fontWeight": "bold", "fontSize": 29, "color": "black", "align": "left", "baseline": "middle"},
       "encoding": {"x": {"datum": 311}, "y": {"field": "mid", "type": "quantitative"}, "text": {"field": "pct"}}}
     ]
    },
    {
     "width": 463, "height": 106,
     "layer": [
      {"data": {"name": "ts"}, "mark": {"type": "line", "color": "#C0504D", "strokeWidth": 1.2},
       "encoding": {
        "x": {"field": "t", "type": "quantitative", "scale": {"domain": [0, 300], "nice": false}, "axis": {"values": [0, 50, 100, 150, 200, 250, 300], "labelFlush": false, "labelOverlap": false, "labelPadding": 14, "title": "Time (ms)", "titlePadding": 22}},
        "y": {"field": "c", "type": "quantitative", "scale": {"domain": [-1, 3], "nice": false}, "axis": {"values": [0, 1, 2], "format": "d", "labelExpr": "datum.value == 1 ? '' : datum.label", "labelPadding": 11, "title": null}}
       }},
      {"data": {"values": [{"v": 2.0}, {"v": -0.52}]}, "mark": {"type": "rule", "strokeDash": [5, 4], "strokeWidth": 2.5, "color": "black"},
       "encoding": {"y": {"field": "v", "type": "quantitative"}, "x": {"datum": 0}, "x2": {"datum": 315}}},
      {"data": {"values": [{"lab": "VDD=1.0V"}]}, "mark": {"type": "rect", "fill": "white", "stroke": "black", "strokeWidth": 2.5},
       "encoding": {"x": {"datum": 89.7}, "x2": {"datum": 185.4}, "y": {"datum": 1.72}, "y2": {"datum": 2.75}}},
      {"data": {"values": [{"lab": "VDD=1.0V"}]}, "mark": {"type": "text", "font": "Liberation Sans", "fontWeight": "bold", "fontSize": 28, "color": "black", "baseline": "middle"},
       "encoding": {"x": {"datum": 137.5}, "y": {"datum": 2.23}, "text": {"field": "lab"}}},
      {"data": {"values": [{"lo": -0.52, "hi": 2.0, "mid": 0.82, "pct": "3.2%"}]}, "mark": {"type": "rule", "strokeWidth": 2, "color": "black"},
       "encoding": {"x": {"datum": 306}, "y": {"field": "lo", "type": "quantitative"}, "y2": {"field": "hi"}}},
      {"data": {"values": [{"lo": -0.52, "hi": 2.0, "mid": 0.82, "pct": "3.2%"}]}, "mark": {"type": "point", "shape": "M0,0L-0.45,1.4L0.45,1.4Z", "filled": true, "color": "black", "size": 100, "opacity": 1},
       "encoding": {"x": {"datum": 306}, "y": {"field": "hi", "type": "quantitative"}}},
      {"data": {"values": [{"lo": -0.52, "hi": 2.0, "mid": 0.82, "pct": "3.2%"}]}, "mark": {"type": "point", "shape": "M0,0L-0.45,-1.4L0.45,-1.4Z", "filled": true, "color": "black", "size": 100, "opacity": 1},
       "encoding": {"x": {"datum": 306}, "y": {"field": "lo", "type": "quantitative"}}},
      {"data": {"values": [{"lo": -0.52, "hi": 2.0, "mid": 0.82, "pct": "3.2%"}]}, "mark": {"type": "text", "font": "Liberation Sans", "fontWeight": "bold", "fontSize": 29, "color": "black", "align": "left", "baseline": "middle"},
       "encoding": {"x": {"datum": 311}, "y": {"field": "mid", "type": "quantitative"}, "text": {"field": "pct"}}}
     ]
    }
   ]
  }
 ],
 "config": {
  "view": {"stroke": "black", "strokeWidth": 2},
  "title": {"font": "DejaVu Sans", "fontSize": 25, "fontWeight": "bold", "color": "black"},
  "axis": {"domainColor": "black", "domainWidth": 2, "tickColor": "black", "tickWidth": 2, "tickSize": 6, "grid": false,
           "labelFont": "Liberation Sans", "labelFontWeight": "bold", "labelFontSize": 24, "labelColor": "black",
           "titleFont": "DejaVu Sans", "titleFontWeight": "bold", "titleFontSize": 26, "titleColor": "black"}
 }
}
